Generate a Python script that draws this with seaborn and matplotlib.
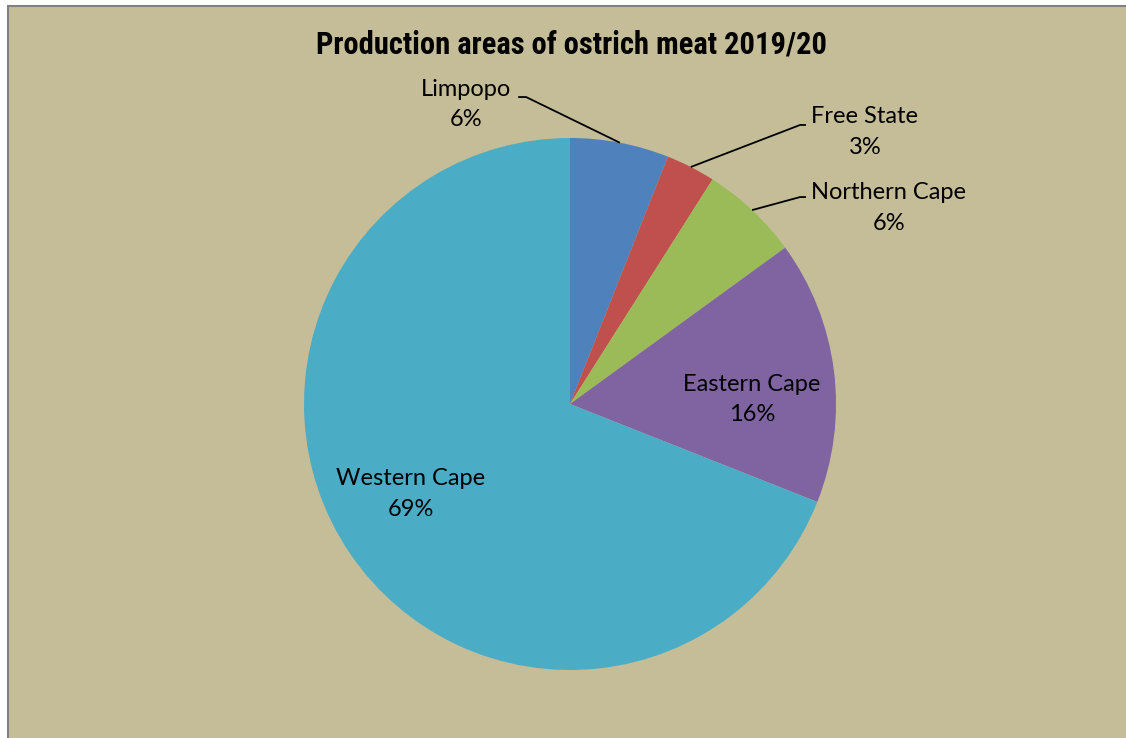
import numpy as np
import matplotlib
matplotlib.use('Agg')
import matplotlib.pyplot as plt
from matplotlib.patches import Rectangle
import seaborn as sns

# data
regions = ['Limpopo', 'Free State', 'Northern Cape', 'Eastern Cape', 'Western Cape']
shares = [6, 3, 6, 16, 69]
colors = ['#4F81BD', '#C0504D', '#9BBB59', '#8064A2', '#4BACC6']

# label layout (data units, pie radius = 1)
label_pos = [(-0.391, 1.126), (1.109, 1.021), (1.199, 0.737), (0.684, 0.017), (-0.598, -0.338)]
# leader lines: (elbow, end of horizontal segment); None for labels inside
leaders = [((-0.165, 1.154), (-0.195, 1.154)),
           ((0.865, 1.049), (0.887, 1.049)),
           ((0.865, 0.778), (0.887, 0.778)),
           None, None]

sns.set_style('white')
plt.rcParams['font.family'] = ['Lato', 'DejaVu Sans']
plt.rcParams['text.color'] = 'black'

fig = plt.figure(figsize=(11.26, 7.38), dpi=100)
fig.patch.set_facecolor('white')
bg = Rectangle((8 / 1126, -0.01), 1.01, 1 - 6 / 738 + 0.01, transform=fig.transFigure,
               facecolor='#C4BD97', edgecolor='#808080', linewidth=1.5, zorder=-5)
fig.patches.append(bg)

ax = fig.add_axes([304 / 1126, 68 / 738, 532 / 1126, 532 / 738])
ax.set_facecolor('none')
wedges, _ = ax.pie(shares, colors=sns.color_palette(colors), startangle=90,
                   counterclock=False, radius=1, wedgeprops={'linewidth': 0})
ax.set_xlim(-1, 1)
ax.set_ylim(-1, 1)
ax.set_aspect('equal')
ax.axis('off')

for w, name, val, pos, ld in zip(wedges, regions, shares, label_pos, leaders):
    ax.text(pos[0], pos[1], f'{name}\n{val}%', ha='center', va='center',
            fontsize=17, linespacing=1.58, color='black')
    if ld is not None:
        mid = np.deg2rad((w.theta1 + w.theta2) / 2)
        x0, y0 = np.cos(mid), np.sin(mid)
        (ex, ey), (hx, hy) = ld
        ax.plot([x0, ex, hx], [y0, ey, hy], color='black', lw=1.3,
                clip_on=False, solid_capstyle='butt')

fig.text(572 / 1126, 1 - 45 / 738, 'Production areas of ostrich meat 2019/20',
         ha='center', va='center', fontsize=22, fontweight='bold', color='black',
         family=['Liberation Sans Narrow', 'DejaVu Sans Condensed', 'Roboto Condensed', 'Roboto'])

fig.savefig('out.png', dpi=100)
